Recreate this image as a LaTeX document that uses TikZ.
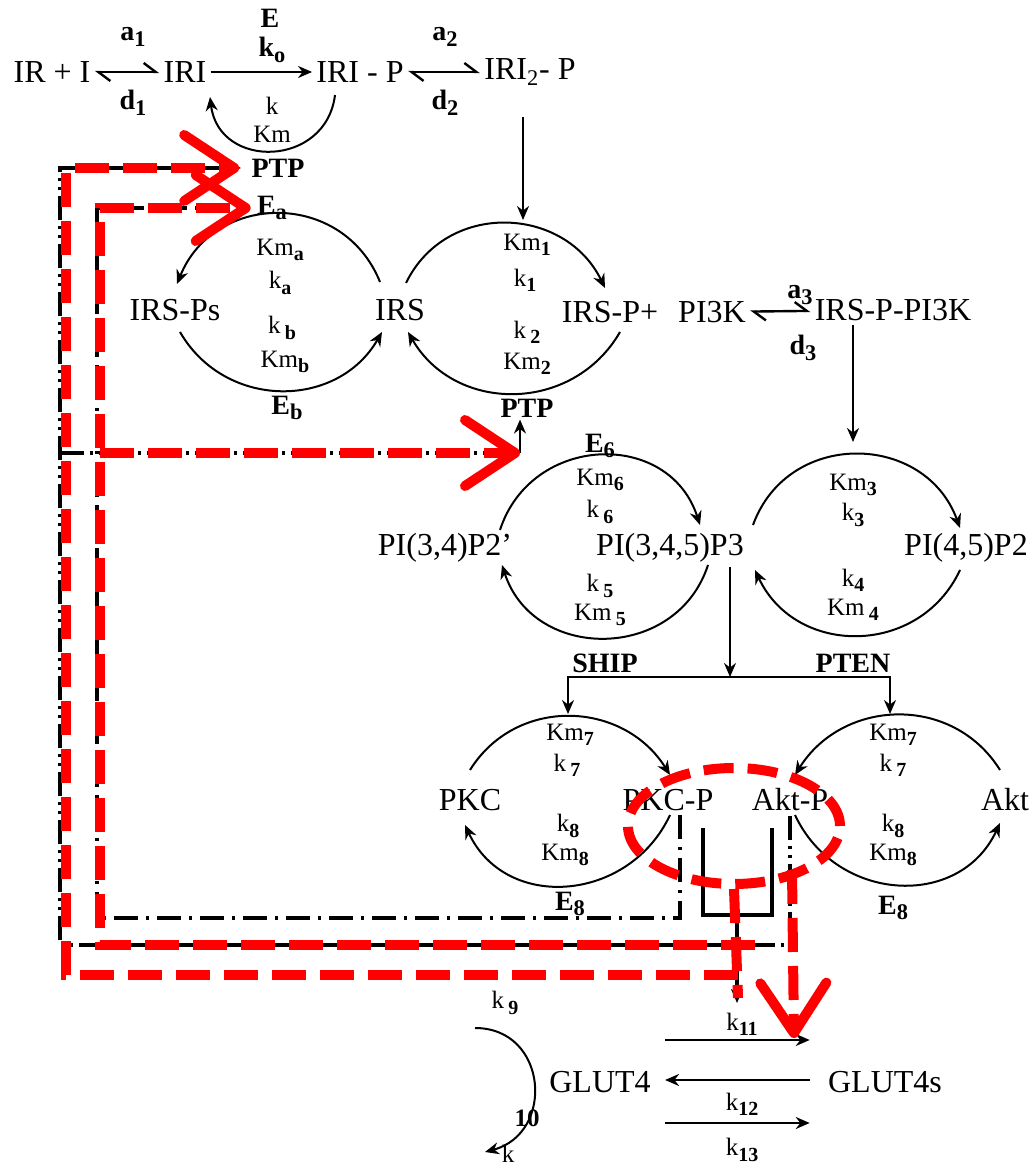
\documentclass[tikz,border=0pt]{standalone}
\usepackage{fontspec}
\usepackage{graphicx}
\setmainfont{Liberation Serif}
\usetikzlibrary{arrows.meta, shapes.geometric, positioning}
\newcommand{\subx}[1]{\raisebox{-0.45ex}{\scalebox{0.8}{\bfseries #1}}}

\begin{document}
\begin{tikzpicture}[
    x=0.5pt, y=0.5pt,
    species/.style={font=\fontsize{16}{18}\selectfont, inner sep=2pt},
    lbl/.style={font=\fontsize{14}{15}\selectfont\bfseries, inner sep=1pt},
    rate/.style={font=\fontsize{12.5}{14}\selectfont, inner sep=1pt},
    arrow/.style={-{Stealth[length=7pt, width=6pt]}, line width=1pt},
    eqm/.style={{Straight Barb[harpoon, length=6pt, width=9pt]}-{Straight Barb[harpoon, length=6pt, width=9pt]}, line width=1.2pt},
    fbout/.style={line width=1.6pt, dash pattern=on 12pt off 3pt on 1.5pt off 3pt on 1.5pt off 3pt},
    fbin/.style={line width=1.6pt, dash pattern=on 12pt off 4pt on 1.5pt off 4pt},
    fbtip/.style={-{Triangle[length=7pt, width=6pt]}},
    junction/.style={line width=1.8pt},
    redline/.style={red, line width=5pt, dash pattern=on 17pt off 7pt},
    redarrow/.style={redline, -{Straight Barb[round, length=25pt, width=33pt]}}
]
\useasboundingbox (0,0) rectangle (1034,1166);

% Nodes
\node[species] (ir-i) at (52,1094) {IR + I};
\node[species] (iri) at (185,1094) {IRI};
\node[species] (iri-p) at (360,1094) {IRI - P};
\node[species] (iri2-p) at (530,1094) {IRI\textsubscript{2}- P};
\node[species] (irs-ps) at (175,856) {IRS-Ps};
\node[species] (irs) at (400,856) {IRS};
\node[species] (irs-p) at (610,854) {IRS-P+};
\node[species] (pi3k) at (712,854) {PI3K};
\node[species] (irs-p-pi3k) at (893,856) {IRS-P-PI3K};
\node[species] (pi34p2) at (445,618) {PI(3,4)P2'};
\node[species] (pi345p3) at (670,618) {PI(3,4,5)P3};
\node[species] (pi45p2) at (966,618) {PI(4,5)P2};
\node[species] (pkc) at (470,366) {PKC};
\node[species] (pkc-p) at (668,366) {PKC-P};
\node[species] (akt-p) at (790,366) {Akt-P};
\node[species] (akt) at (1005,366) {Akt};
\node[species] (glut4) at (600,84) {GLUT4};
\node[species] (glut4s) at (885,84) {GLUT4s};

% Labels
\node[lbl] (a1) at (133,1129) {a\subx{1}};
\node[lbl] (d1) at (133,1063) {d\subx{1}};
\node[lbl] (e0) at (270,1148) {E};
\node[lbl] (k0) at (272,1116) {k\subx{o}};
\node[rate] (k-iri) at (272,1060) {k};
\node[rate] (km-iri) at (272,1032) {Km};
\node[lbl] (a2) at (445,1129) {a\subx{2}};
\node[lbl] (d2) at (445,1063) {d\subx{2}};
\node[lbl] (ptp1) at (278,998) {PTP};
\node[lbl] (ea) at (272,958) {E\subx{a}};
\node[rate] (kma) at (280,916) {Km\subx{a}};
\node[rate] (ka) at (280,883) {k\subx{a}};
\node[rate] (kb) at (282,838) {k\,\subx{b}};
\node[rate] (kmb) at (285,804) {Km\subx{b}};
\node[lbl] (eb) at (287,758) {E\subx{b}};
\node[rate] (km1) at (527,921) {Km\subx{1}};
\node[rate] (k1) at (525,886) {k\subx{1}};
\node[rate] (k2) at (527,834) {k\,\subx{2}};
\node[rate] (km2) at (527,802) {Km\subx{2}};
\node[lbl] (ptp2) at (527,758) {PTP};
\node[lbl] (a3) at (800,871) {a\subx{3}};
\node[lbl] (d3) at (803,818) {d\subx{3}};
\node[lbl] (e6) at (600,720) {E\subx{6}};
\node[rate] (km6) at (600,686) {Km\subx{6}};
\node[rate] (k6) at (600,654) {k\,\subx{6}};
\node[rate] (k5) at (600,580) {k\,\subx{5}};
\node[rate] (km5) at (600,551) {Km\,\subx{5}};
\node[lbl] (ship) at (605,503) {SHIP};
\node[rate] (km3) at (853,681) {Km\subx{3}};
\node[rate] (k3) at (853,651) {k\subx{3}};
\node[rate] (k4) at (853,586) {k\subx{4}};
\node[rate] (km4) at (853,556) {Km\,\subx{4}};
\node[lbl] (pten) at (853,503) {PTEN};
\node[rate] (km7) at (570,431) {Km\subx{7}};
\node[rate] (k7) at (567,401) {k\,\subx{7}};
\node[rate] (k8) at (568,340) {k\subx{8}};
\node[rate] (km8) at (565,311) {Km\subx{8}};
\node[lbl] (e8) at (570,262) {E\subx{8}};
\node[rate] (km7-akt) at (893,431) {Km\subx{7}};
\node[rate] (k7-akt) at (893,401) {k\,\subx{7}};
\node[rate] (k8-akt) at (893,340) {k\subx{8}};
\node[rate] (km8-akt) at (893,311) {Km\subx{8}};
\node[lbl] (e8-akt) at (893,258) {E\subx{8}};
\node[rate] (k9) at (505,163) {k\,\subx{9}};
\node[rate] (k10) at (527,48) {\bfseries 10};
\node[rate] (k10-k) at (508,12) {k};
\node[rate] (k11) at (742,142) {k\subx{11}};
\node[rate] (k12) at (742,62) {k\subx{12}};
\node[rate] (k13) at (742,16) {k\subx{13}};

% Coordinates
\coordinate (c1-top) at (523,946);
\coordinate (c3-top) at (853,724);
\coordinate (split) at (730,489);
\coordinate (c5-top) at (568,452);
\coordinate (c6-top) at (890,452);
\coordinate (ptp-foot) at (520,713);
\coordinate (deg-in) at (475,138);
\coordinate (deg-out) at (485,14);
\coordinate (fb-akt) at (60,221);
\coordinate (fb-ptp) at (60,713);
\coordinate (fb-pkc) at (97,248);
\coordinate (u-left) at (703,338);
\coordinate (u-right) at (772,338);
\coordinate (u-base) at (737,251);
\coordinate (u-end) at (737,163);

% Arrows
\draw[eqm] (ir-i) -- (iri);
\draw[arrow] (iri) -- (iri-p);
\draw[eqm] (iri-p) -- (iri2-p);
\draw[eqm] (pi3k) -- (irs-p-pi3k);
\draw[arrow] ([shift={(-25,-23)}]iri-p.center) to[out=-97, in=-83, looseness=1.5] ([shift={(25,-25)}]iri.center);
\draw[arrow, shorten <=14pt] (iri2-p.south -| c1-top) -- (c1-top);
\draw[arrow] (irs-p-pi3k.south -| c3-top) -- (c3-top);
\draw[arrow] (pi345p3.south -| split) -- (split);
\draw[arrow] (split) -| (c5-top);
\draw[arrow] (split) -| (c6-top);
\draw[arrow] (ptp-foot) -- (ptp-foot |- ptp2.south);

% Cycles
\draw[arrow] ([shift={(-20,28)}]irs.center) to[out=112, in=68, looseness=1.25] ([shift={(2,26)}]irs-ps.center);
\draw[arrow] ([shift={(5,-22)}]irs-ps.center) to[out=-60, in=-120, looseness=1.14] ([shift={(-18,-22)}]irs.center);
\draw[arrow] ([shift={(6,27)}]irs.center) to[out=64, in=116, looseness=1.18] ([shift={(-5,24)}]irs-p.center);
\draw[arrow] ([shift={(10,-20)}]irs-p.center) to[out=-120, in=-60, looseness=1.14] ([shift={(8,-22)}]irs.center);
\draw[arrow] ([shift={(55,18)}]pi34p2.center) to[out=72, in=108, looseness=1.29] ([shift={(30,23)}]pi345p3.center);
\draw[arrow] ([shift={(38,-17)}]pi345p3.center) to[out=-108, in=-72, looseness=1.27] ([shift={(57,-17)}]pi34p2.center);
\draw[arrow] ([shift={(83,23)}]pi345p3.center) to[out=70, in=110, looseness=1.26] ([shift={(-6,20)}]pi45p2.center);
\draw[arrow] ([shift={(-6,-22)}]pi45p2.center) to[out=-115, in=-65, looseness=1.2] ([shift={(85,-22)}]pi345p3.center);
\draw[arrow] ([shift={(0,30)}]pkc.center) to[out=58, in=122, looseness=1.12] ([shift={(2,25)}]pkc-p.center);
\draw[arrow] ([shift={(2,-15)}]pkc-p.center) to[out=-115, in=-65, looseness=1.2] ([shift={(-5,-25)}]pkc.center);
\draw[arrow] ([shift={(-5,30)}]akt.center) to[out=122, in=58, looseness=1.12] ([shift={(5,25)}]akt-p.center);
\draw[arrow] ([shift={(5,-15)}]akt-p.center) to[out=-65, in=-115, looseness=1.2] ([shift={(-5,-23)}]akt.center);

% GLUT4
\draw[arrow] ([shift={(10,42)}]glut4.east) -- ([shift={(-14,42)}]glut4s.west);
\draw[arrow] ([shift={(-14,2)}]glut4s.west) -- ([shift={(10,2)}]glut4.east);
\draw[arrow] ([shift={(10,-41)}]glut4.east) -- ([shift={(-14,-41)}]glut4s.west);
\draw[arrow] (deg-in) to[out=0, in=15, looseness=1.5] (deg-out);

% Feedback
\draw[fbout, fbtip] (akt-p.south) |- (fb-akt) |- ([xshift=-4pt]ptp1.west);
\draw[fbout] (fb-ptp) -- (ptp-foot);
\draw[fbin, fbtip] ([shift={(12,0)}]pkc-p.south) |- (fb-pkc) |- ([xshift=-2pt]ea.west);
\draw[junction] (u-left) |- (u-base) -| (u-right);
\draw[arrow, line width=1.8pt] (u-base) -- (u-end);

% Red marks
\node[draw=red, ellipse, line width=5pt, dash pattern=on 15pt off 7pt, minimum width=106pt, minimum height=58pt] (hot) at (734,340) {};
\coordinate (r1-end) at (738,168);
\coordinate (r1-turn) at (738,191);
\coordinate (r1-corner) at (66,191);
\coordinate (r2-start) at (755,221);
\coordinate (r2-corner) at (100,221);
\coordinate (r2-branch) at (100,713);
\coordinate (r3-start) at (792,296);
\coordinate (r3-end) at (794,128);
\draw[redline] (hot.south) -- (r1-end);
\draw[redarrow] (r1-turn) -- (r1-corner) |- ([xshift=-5pt]ptp1.west);
\draw[redarrow] (r2-start) -- (r2-corner) |- ([xshift=-2pt]ea.west);
\draw[redarrow] (r2-branch) -- (ptp-foot);
\draw[redarrow] (r3-start) -- (r3-end);

\end{tikzpicture}
\end{document}
